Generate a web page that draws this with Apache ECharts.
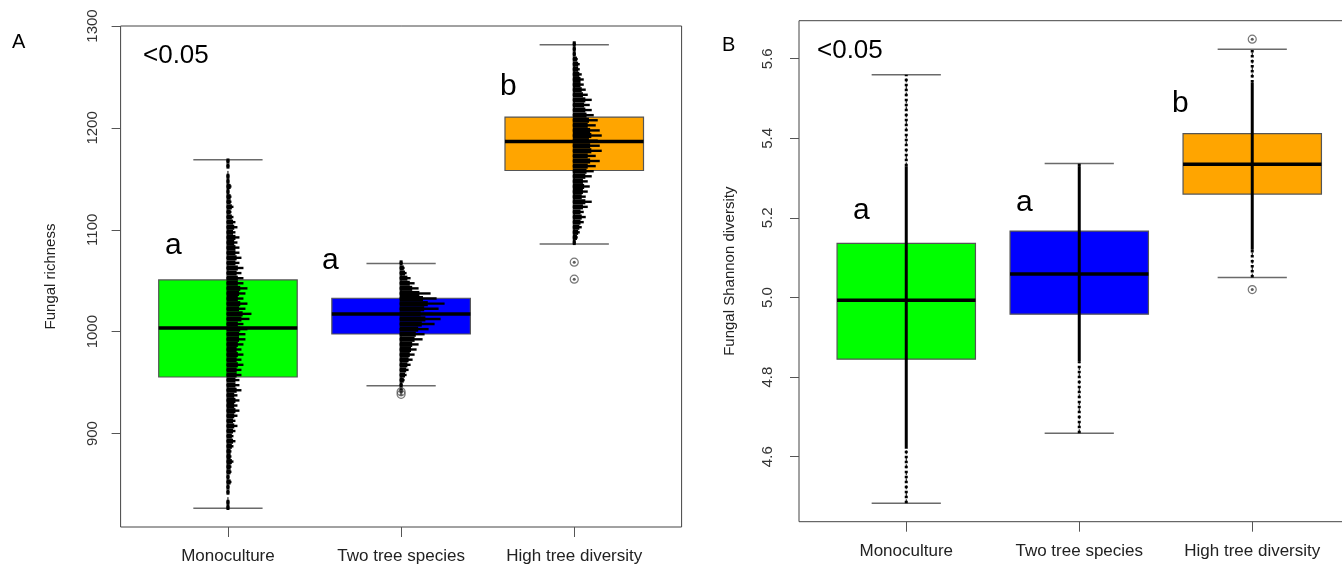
<!DOCTYPE html>
<html><head><meta charset="utf-8">
<script src="https://cdn.jsdelivr.net/npm/echarts@6/dist/echarts.min.js"></script>
<style>html,body{margin:0;padding:0;background:#fff}#c{width:1342px;height:569px}</style>
</head><body><div id="c"></div>
<script>
// ---------- data ----------
const categories = ['Monoculture', 'Two tree species', 'High tree diversity'];
const boxColors = ['#00FF00', '#0000FF', '#FFA500'];
const richnessTicks = [900, 1000, 1100, 1200, 1300];
const shannonTicks = [4.6, 4.8, 5.0, 5.2, 5.4, 5.6];
// [lower whisker, Q1, median, Q3, upper whisker]
const richnessBox = [
  [826.8, 955.5, 1003.6, 1050.8, 1168.7],
  [947.0, 997.7, 1017.4, 1032.8, 1067.0],
  [1086.1, 1158.2, 1186.7, 1210.6, 1281.6]
];
const richnessOutliers = [[2, 941.0], [2, 938.5], [3, 1068.2], [3, 1051.5]];
const shannonBox = [
  [4.483, 4.845, 4.993, 5.136, 5.560],
  [4.659, 4.958, 5.059, 5.167, 5.337],
  [5.050, 5.260, 5.335, 5.412, 5.624]
];
const shannonOutliers = [[3, 5.649], [3, 5.020]];
// range where the points of panel B form a continuous strip
const shannonDense = [[4.62, 5.33], [4.84, 5.33], [5.12, 5.54]];
// beeswarm of panel A: point counts per 5-unit bin, starting at binStarts
const binSize = 5;
const binStarts = [825, 940, 1085];
const monoCounts = [1,1,0,1,1, 2,1,2,2,3,2,2, 3,4,3,4,5,4, 5,6,5,6,5,7,6,6,7, 7,8,7,8,7,8,9,
  9,10,8,11,12,9,10,8,9,10,8, 8,7,8,6,7,6, 6,5,6,4,5,4, 3,2,3,2,2,1,2,1, 1,0,1,1];
const twoCounts = [1,1,2,3,4,5,6,7,8,9,11,12,14,17,20,16,19,22,18,15,9,7,5,3,2,1];
const highCounts = [1,2,3,4,5,6,5,7,9,6,7,8,7,9,10,11,13,11,14,13,
  12,14,13,11,12,10,9,8,9,7,6,5,5,4,3,3,2,1,1,1];

// ---------- build ----------
const FONT = "'Liberation Sans', Arial, sans-serif";
const swarmCounts = [monoCounts, twoCounts, highCounts];
const swarmData = [];
swarmCounts.forEach((arr, g) => {
  arr.forEach((n, i) => {
    const lo = binStarts[g] + i * binSize;
    swarmData.push([g + 1, lo, lo + binSize, n]);
  });
});
const richBoxData = richnessBox.map((b, i) => [i + 1].concat(b).concat([i]));
const shanBoxData = shannonBox.map((b, i) => [i + 1].concat(b).concat([i]));
const shanStripData = shannonBox.map((b, i) => [i + 1, b[0], shannonDense[i][0], shannonDense[i][1], b[4]]);

function renderBox(params, api) {
  const x = api.value(0);
  const pLo = api.coord([x, api.value(1)]);
  const pQ1 = api.coord([x, api.value(2)]);
  const pMd = api.coord([x, api.value(3)]);
  const pQ3 = api.coord([x, api.value(4)]);
  const pHi = api.coord([x, api.value(5)]);
  const ci = api.value(6);
  const hb = api.size([0.4, 0])[0];
  const hc = api.size([0.2, 0])[0];
  const cx = pLo[0];
  return { type: 'group', children: [
    { type: 'line', shape: { x1: cx, y1: pLo[1], x2: cx, y2: pQ1[1] }, style: { stroke: '#000', lineWidth: 1, lineDash: [4, 3] } },
    { type: 'line', shape: { x1: cx, y1: pQ3[1], x2: cx, y2: pHi[1] }, style: { stroke: '#000', lineWidth: 1, lineDash: [4, 3] } },
    { type: 'line', shape: { x1: cx - hc, y1: pLo[1], x2: cx + hc, y2: pLo[1] }, style: { stroke: '#6a6a6a', lineWidth: 1.5 } },
    { type: 'line', shape: { x1: cx - hc, y1: pHi[1], x2: cx + hc, y2: pHi[1] }, style: { stroke: '#6a6a6a', lineWidth: 1.5 } },
    { type: 'rect', shape: { x: cx - hb, y: pQ3[1], width: 2 * hb, height: pQ1[1] - pQ3[1] }, style: { fill: boxColors[ci], stroke: '#555', lineWidth: 1.2 } },
    { type: 'line', shape: { x1: cx - hb, y1: pMd[1], x2: cx + hb, y2: pMd[1] }, style: { stroke: '#000', lineWidth: 3.5 } }
  ]};
}
function renderSwarm(params, api) {
  const n = api.value(3);
  if (!n) return null;
  const x = api.value(0);
  const p0 = api.coord([x, api.value(1)]);
  const p1 = api.coord([x, api.value(2)]);
  const full = 3 + (n - 1) * 2;
  const core = 3 + (n - 1) * 1.2;
  const h = p0[1] - p1[1];
  const mid = (p0[1] + p1[1]) / 2;
  return { type: 'group', children: [
    { type: 'rect', shape: { x: p0[0] - 1.5, y: p1[1], width: core, height: h }, style: { fill: '#000' } },
    { type: 'rect', shape: { x: p0[0] - 1.5, y: mid - 1.2, width: full, height: 2.4 }, style: { fill: '#000' } }
  ]};
}
function renderStrip(params, api) {
  const x = api.value(0);
  const pLo = api.coord([x, api.value(1)]);
  const pDl = api.coord([x, api.value(2)]);
  const pDh = api.coord([x, api.value(3)]);
  const pHi = api.coord([x, api.value(4)]);
  const cx = pLo[0];
  return { type: 'group', children: [
    { type: 'line', shape: { x1: cx, y1: pLo[1], x2: cx, y2: pDl[1] }, style: { stroke: '#000', lineWidth: 3, lineDash: [2.5, 2.5] } },
    { type: 'line', shape: { x1: cx, y1: pDh[1], x2: cx, y2: pHi[1] }, style: { stroke: '#000', lineWidth: 3, lineDash: [2.5, 2.5] } },
    { type: 'line', shape: { x1: cx, y1: pDl[1], x2: cx, y2: pDh[1] }, style: { stroke: '#000', lineWidth: 3 } }
  ]};
}

function makeX(gi) {
  return { gridIndex: gi, type: 'value', min: 0.38, max: 3.62,
    axisLine: { show: false }, splitLine: { show: false },
    axisTick: { show: true, customValues: [1, 2, 3], length: 10, lineStyle: { color: '#555', width: 1 } },
    axisLabel: { customValues: [1, 2, 3], formatter: v => categories[Math.round(v) - 1], fontSize: 17, color: '#222', margin: 21, fontFamily: FONT } };
}
function makeY(gi, min, max, ticks, name, margin, decimals) {
  return { gridIndex: gi, type: 'value', min: min, max: max,
    axisLine: { show: false }, splitLine: { show: false },
    axisTick: { show: true, customValues: ticks, length: 9, lineStyle: { color: '#555', width: 1 } },
    axisLabel: { customValues: ticks, rotate: 90, fontSize: 15, color: '#333', margin: margin, fontFamily: FONT,
      formatter: v => decimals ? Number(v).toFixed(decimals) : String(v) },
    name: name, nameLocation: 'middle', nameGap: 62, nameRotate: 90,
    nameTextStyle: { fontSize: 15, color: '#222', fontFamily: FONT } };
}
function txt(x, y, s, size) {
  return { type: 'text', x: x, y: y, style: { text: s, fontSize: size, fontFamily: FONT, fill: '#000', align: 'left', verticalAlign: 'middle' } };
}

const option = {
  backgroundColor: '#fff',
  animation: false,
  grid: [
    { left: 120.6, top: 26, width: 561, height: 501, show: true, borderColor: '#444', borderWidth: 1, outerBoundsMode: 'none', containLabel: false },
    { left: 799, top: 20.7, width: 560.5, height: 501, show: true, borderColor: '#444', borderWidth: 1, outerBoundsMode: 'none', containLabel: false }
  ],
  xAxis: [makeX(0), makeX(1)],
  yAxis: [
    makeY(0, 808.3, 1300, richnessTicks, 'Fungal richness', 20, 0),
    makeY(1, 4.4367, 5.6955, shannonTicks, 'Fungal Shannon diversity', 24, 1)
  ],
  graphic: [
    txt(12, 42.5, 'A', 20),
    txt(722, 45.5, 'B', 20),
    txt(143, 55.5, '<0.05', 26),
    txt(817, 51, '<0.05', 26),
    txt(165, 246, 'a', 30),
    txt(322, 261, 'a', 30),
    txt(500, 87, 'b', 30),
    txt(853, 211, 'a', 30),
    txt(1016, 202.5, 'a', 30),
    txt(1172, 103.5, 'b', 30)
  ],
  series: [
    { type: 'custom', xAxisIndex: 0, yAxisIndex: 0, renderItem: renderBox, data: richBoxData, encode: { x: 0, y: [1, 5] }, z: 2 },
    { type: 'custom', xAxisIndex: 0, yAxisIndex: 0, renderItem: renderSwarm, data: swarmData, encode: { x: 0, y: [1, 2] }, z: 3 },
    { type: 'scatter', xAxisIndex: 0, yAxisIndex: 0, data: richnessOutliers, symbol: 'circle', symbolSize: 8,
      itemStyle: { color: 'rgba(0,0,0,0)', borderColor: '#555', borderWidth: 1.2 }, z: 4, silent: true },
    { type: 'scatter', xAxisIndex: 0, yAxisIndex: 0, data: richnessOutliers, symbol: 'circle', symbolSize: 3,
      itemStyle: { color: '#333' }, z: 5, silent: true },
    { type: 'custom', xAxisIndex: 1, yAxisIndex: 1, renderItem: renderBox, data: shanBoxData, encode: { x: 0, y: [1, 5] }, z: 2 },
    { type: 'custom', xAxisIndex: 1, yAxisIndex: 1, renderItem: renderStrip, data: shanStripData, encode: { x: 0, y: [1, 4] }, z: 3 },
    { type: 'scatter', xAxisIndex: 1, yAxisIndex: 1, data: shannonOutliers, symbol: 'circle', symbolSize: 8,
      itemStyle: { color: 'rgba(0,0,0,0)', borderColor: '#555', borderWidth: 1.2 }, z: 4, silent: true },
    { type: 'scatter', xAxisIndex: 1, yAxisIndex: 1, data: shannonOutliers, symbol: 'circle', symbolSize: 3,
      itemStyle: { color: '#333' }, z: 5, silent: true }
  ]
};
const chart = echarts.init(document.getElementById('c'));
chart.setOption(option);
</script>
</body></html>
